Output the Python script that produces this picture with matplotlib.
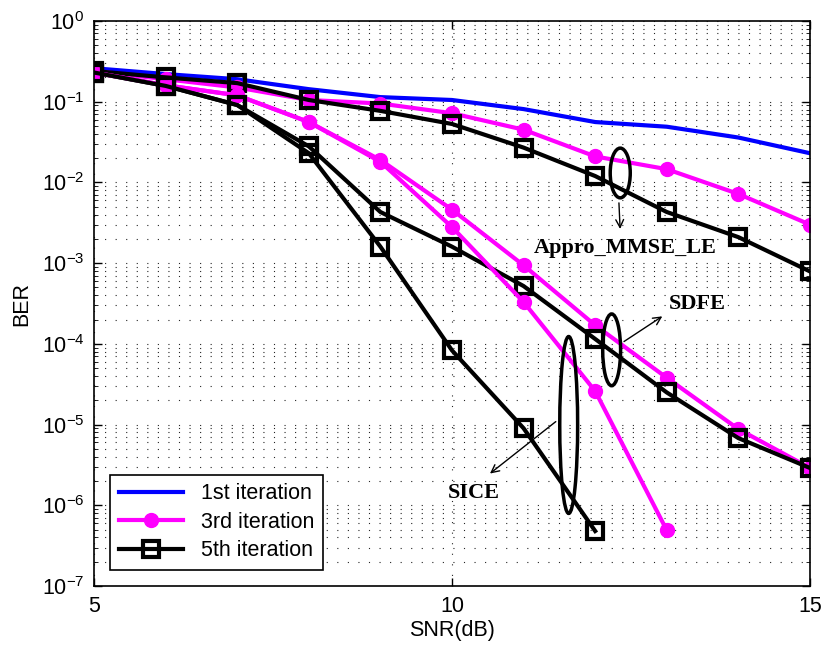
import matplotlib
matplotlib.use("Agg")
import matplotlib.pyplot as plt
from matplotlib.patches import Ellipse
from matplotlib.ticker import LogLocator, NullFormatter, FixedLocator

plt.rcParams["font.family"] = ["Liberation Sans", "DejaVu Sans"]
plt.rcParams["mathtext.default"] = "regular"

snr = [5, 6, 7, 8, 9, 10, 11, 12, 13, 14, 15]

# 1st iteration (shared)
ber_iter1 = [0.26, 0.22, 0.19, 0.143, 0.114, 0.105, 0.081, 0.056, 0.049, 0.036, 0.023]

# Appro_MMSE_LE
ber_le_iter3 = [0.24, 0.19, 0.15, 0.105, 0.095, 0.072, 0.045, 0.021, 0.0146, 0.0072, 0.003]
ber_le_iter5 = [0.24, 0.2, 0.17, 0.105, 0.077, 0.053, 0.027, 0.012, 0.0043, 0.0021, 0.00079]

# SDFE
ber_sdfe_iter3 = [0.23, 0.16, 0.12, 0.056, 0.019, 0.0046, 0.00094, 0.00017, 3.8e-5, 8.8e-6, 2.9e-6]
ber_sdfe_iter5 = [0.23, 0.157, 0.091, 0.028, 0.0043, 0.0016, 0.00052, 0.000115, 2.5e-5, 6.8e-6, 2.9e-6]

# SICE
snr_sice = [5, 6, 7, 8, 9, 10, 11, 12, 13]
ber_sice_iter3 = [0.23, 0.16, 0.12, 0.056, 0.018, 0.0028, 0.00033, 2.6e-5, 4.9e-7]
snr_sice5 = [5, 6, 7, 8, 9, 10, 11, 12]
ber_sice_iter5 = [0.23, 0.157, 0.091, 0.023, 0.0016, 8.3e-5, 9e-6, 4.8e-7]

x_ticks = [5, 10, 15]
y_ticks = [1e-7, 1e-6, 1e-5, 1e-4, 1e-3, 1e-2, 1e-1, 1]

MAGENTA = "#ff00ff"
LW = 3
FS = 15.5

fig = plt.figure(figsize=(8.27, 6.52), dpi=100)
ax = fig.add_axes([0.1137, 0.1012, 0.8657, 0.8666])

ax.semilogy(snr, ber_iter1, color="#0000ff", lw=LW, label="1st iteration")

mag_style = dict(color=MAGENTA, lw=LW, marker="o", markersize=10)
blk_style = dict(color="black", lw=LW, marker="s", markersize=12,
                 markerfacecolor="none", markeredgewidth=3)

ax.semilogy(snr, ber_le_iter3, label="3rd iteration", **mag_style)
ax.semilogy(snr, ber_le_iter5, label="5th iteration", **blk_style)
ax.semilogy(snr, ber_sdfe_iter3, **mag_style)
ax.semilogy(snr, ber_sdfe_iter5, **blk_style)
ax.semilogy(snr_sice, ber_sice_iter3, **mag_style)
ax.semilogy(snr_sice5, ber_sice_iter5, **blk_style)

ax.set_xlim(5, 15)
ax.set_ylim(1e-7, 1)
ax.xaxis.set_major_locator(FixedLocator(x_ticks))
ax.yaxis.set_major_locator(FixedLocator(y_ticks))
ax.yaxis.set_minor_locator(LogLocator(base=10, subs=range(2, 10), numticks=20))
ax.yaxis.set_minor_formatter(NullFormatter())
ax.tick_params(which="both", direction="in", top=True, right=True, labelsize=FS)
ax.tick_params(which="major", length=6, width=1)
ax.tick_params(which="minor", length=3)
ax.tick_params(axis="x", pad=7)
ax.tick_params(axis="y", pad=7)
for spine in ax.spines.values():
    spine.set_linewidth(1.2)

grid_kw = dict(linestyle=(0, (1, 8.5)), color="0.15", lw=0.8)
ax.grid(True, which="major", axis="both", **grid_kw)
ax.grid(True, which="minor", axis="y", **grid_kw)

ax.set_xlabel("SNR(dB)", fontsize=FS, labelpad=2)
ax.set_ylabel("BER", fontsize=FS, labelpad=7)

leg = ax.legend(loc="lower left", fontsize=FS, fancybox=False, edgecolor="black",
                framealpha=1, handlelength=3.0, borderaxespad=0.75,
                labelspacing=0.35, borderpad=0.4)
leg.get_frame().set_linewidth(1.2)

# group annotations
ell_kw = dict(transform=ax.transAxes, fill=False, edgecolor="black", lw=2.5, zorder=5)
ax.add_patch(Ellipse((0.735, 0.731), 0.028, 0.088, **ell_kw))
ax.add_patch(Ellipse((0.723, 0.418), 0.025, 0.127, **ell_kw))
ax.add_patch(Ellipse((0.663, 0.285), 0.025, 0.313, **ell_kw))

arrow_kw = dict(arrowstyle="->", color="black", lw=1.0, mutation_scale=14)
ax.annotate("", xy=(0.735, 0.627), xytext=(0.733, 0.683), xycoords="axes fraction",
            arrowprops=arrow_kw)
ax.annotate("", xy=(0.797, 0.480), xytext=(0.737, 0.430), xycoords="axes fraction",
            arrowprops=arrow_kw)
ax.annotate("", xy=(0.550, 0.196), xytext=(0.648, 0.294), xycoords="axes fraction",
            arrowprops=arrow_kw)

txt_kw = dict(transform=ax.transAxes, fontsize=16, fontweight="bold",
              family="Liberation Serif", ha="center", va="center")
ax.text(0.742, 0.598, "Appro_MMSE_LE", **txt_kw)
ax.text(0.842, 0.499, "SDFE", **txt_kw)
ax.text(0.531, 0.165, "SICE", **txt_kw)

fig.savefig("out.png", dpi=100)
